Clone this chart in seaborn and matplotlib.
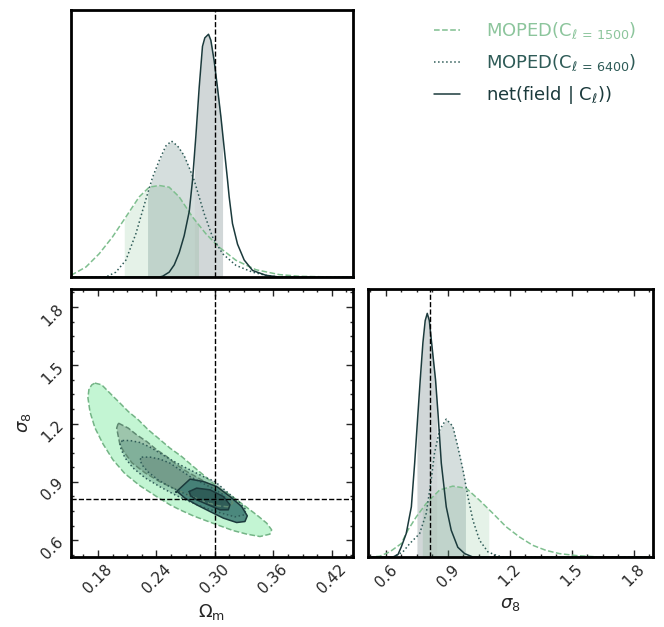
import numpy as np
import matplotlib
matplotlib.use("Agg")
import matplotlib.pyplot as plt
from matplotlib.ticker import MultipleLocator, NullLocator
from matplotlib.lines import Line2D
import seaborn as sns

sns.set_style("white")
plt.rcParams["font.family"] = ["DejaVu Sans"]
plt.rcParams["mathtext.fontset"] = "dejavusans"

# ---------------- parameters / truth ----------------
param_labels = [r"$\Omega_{\rm m}$", r"$\sigma_8$"]
truth_om = 0.30
truth_s8 = 0.812
om_lim = (0.1523, 0.4418)
s8_lim = (0.513, 1.893)

series_names = [r"MOPED(C$_{\ell\,=\,1500}$)",
                r"MOPED(C$_{\ell\,=\,6400}$)",
                r"net(field | C$_{\ell}$))"]
line_colors = ["#7fbf8f", "#2e5b57", "#1b3a3c"]
line_styles = ["--", ":", "-"]

# ---------------- 1D marginals: Omega_m ----------------
om_1500_x = [0.1523, 0.1676, 0.1813, 0.1949, 0.2086, 0.2223, 0.2326, 0.2429, 0.2531,
             0.2634, 0.2771, 0.2908, 0.3044, 0.3216, 0.3421, 0.3660, 0.3866, 0.4208, 0.4418]
om_1500_y = [0.007, 0.041, 0.096, 0.165, 0.247, 0.330, 0.370, 0.377, 0.370,
             0.330, 0.247, 0.178, 0.123, 0.069, 0.030, 0.010, 0.003, 0.0, 0.0]

om_6400_x = [0.1523, 0.1881, 0.1984, 0.2086, 0.2189, 0.2292, 0.2360, 0.2429, 0.2497, 0.2555,
             0.2617, 0.2685, 0.2737, 0.2788, 0.2891, 0.2976, 0.3079, 0.3216, 0.3387, 0.3524,
             0.3660, 0.4418]
om_6400_y = [0.0, 0.0, 0.020, 0.069, 0.178, 0.320, 0.410, 0.480, 0.540, 0.560,
             0.540, 0.500, 0.450, 0.398, 0.260, 0.165, 0.096, 0.048, 0.020, 0.007,
             0.0, 0.0]

om_net_x = [0.1523, 0.2429, 0.2463, 0.2531, 0.2583, 0.2634, 0.2685, 0.2737, 0.2771, 0.2805,
            0.2839, 0.2873, 0.2897, 0.2935, 0.2959, 0.2993, 0.3027, 0.3062, 0.3096, 0.3130,
            0.3147, 0.3181, 0.3233, 0.3301, 0.3387, 0.3524, 0.3660, 0.4418]
om_net_y = [0.0, 0.0, 0.003, 0.020, 0.050, 0.100, 0.170, 0.270, 0.400, 0.580,
            0.780, 0.950, 0.985, 1.000, 0.975, 0.890, 0.780, 0.660, 0.530, 0.400,
            0.330, 0.220, 0.135, 0.070, 0.027, 0.007, 0.0, 0.0]

om_bands = [(0.2070, 0.2832), (0.2309, 0.2788), (0.2788, 0.3079)]

# ---------------- 1D marginals: sigma_8 ----------------
s8_1500_x = [0.513, 0.521, 0.569, 0.618, 0.674, 0.706, 0.747, 0.795, 0.860, 0.924,
             0.989, 1.053, 1.118, 1.182, 1.247, 1.311, 1.376, 1.440, 1.521, 1.634, 1.893]
s8_1500_y = [0.0, 0.0, 0.003, 0.021, 0.055, 0.110, 0.165, 0.220, 0.275, 0.291,
             0.282, 0.233, 0.179, 0.124, 0.082, 0.048, 0.027, 0.014, 0.006, 0.0, 0.0]

s8_6400_x = [0.513, 0.634, 0.682, 0.715, 0.763, 0.795, 0.819, 0.835, 0.860, 0.892,
             0.924, 0.948, 0.973, 0.997, 1.021, 1.053, 1.094, 1.134, 1.166, 1.893]
s8_6400_y = [0.0, 0.0, 0.021, 0.055, 0.096, 0.179, 0.316, 0.426, 0.522, 0.566,
             0.536, 0.453, 0.357, 0.247, 0.151, 0.069, 0.021, 0.007, 0.0, 0.0]

s8_net_x = [0.513, 0.634, 0.658, 0.674, 0.698, 0.723, 0.739, 0.755, 0.766, 0.779, 0.790,
            0.800, 0.810, 0.821, 0.831, 0.840, 0.852, 0.868, 0.892, 0.916, 0.948,
            0.981, 1.021, 1.893]
s8_net_y = [0.0, 0.0, 0.010, 0.041, 0.096, 0.206, 0.385, 0.590, 0.728, 0.880, 0.970,
            1.000, 0.970, 0.880, 0.800, 0.728, 0.590, 0.385, 0.206, 0.110, 0.040,
            0.014, 0.0, 0.0]

s8_bands = [(0.776, 1.098), (0.847, 0.985), (0.750, 0.847)]

# ---------------- 2D credible contours (Omega_m, sigma_8) ----------------
c1500_outer_om = [0.1769, 0.1838, 0.1889, 0.1957, 0.2026, 0.2111, 0.2214, 0.2316, 0.2419,
                  0.2539, 0.2659, 0.2778, 0.2881, 0.3019, 0.3155, 0.3292, 0.3429, 0.3532,
                  0.3583, 0.3566, 0.3463, 0.3327, 0.3189, 0.3053, 0.2916, 0.2778, 0.2642,
                  0.2539, 0.2406, 0.2231, 0.2077, 0.1954, 0.1851, 0.1769, 0.1718, 0.1697,
                  0.1708, 0.1738]
c1500_outer_s8 = [1.4085, 1.3997, 1.3740, 1.3394, 1.3055, 1.2622, 1.2195, 1.1680, 1.1250,
                  1.0737, 1.0305, 0.9790, 0.9360, 0.8760, 0.8330, 0.7820, 0.7300, 0.6875,
                  0.6530, 0.6310, 0.6185, 0.6310, 0.6490, 0.6736, 0.6990, 0.7250, 0.7560,
                  0.7820, 0.8230, 0.8800, 0.9420, 1.0135, 1.0960, 1.1780, 1.2610, 1.3330,
                  1.3790, 1.4000]

c1500_inner_om = [0.2009, 0.2111, 0.2197, 0.2300, 0.2403, 0.2505, 0.2608, 0.2711, 0.2827,
                  0.2950, 0.3073, 0.3155, 0.3186, 0.3135, 0.3032, 0.2899, 0.2745, 0.2591,
                  0.2437, 0.2283, 0.2149, 0.2067, 0.2026, 0.2009, 0.1992]
c1500_inner_s8 = [1.2025, 1.1767, 1.1422, 1.1077, 1.0650, 1.0305, 0.9877, 0.9532, 0.9208,
                  0.8848, 0.8487, 0.8178, 0.7920, 0.7716, 0.7766, 0.7972, 0.8280, 0.8640,
                  0.9000, 0.9466, 0.9980, 1.0546, 1.0907, 1.1335, 1.1767]

c6400_outer_om = [0.2053, 0.2129, 0.2231, 0.2334, 0.2437, 0.2539, 0.2642, 0.2745, 0.2881,
                  0.3001, 0.3135, 0.3258, 0.3320, 0.3300, 0.3207, 0.3053, 0.2899, 0.2745,
                  0.2591, 0.2437, 0.2283, 0.2159, 0.2077, 0.2036, 0.2026]
c6400_outer_s8 = [1.1129, 1.1129, 1.1026, 1.0789, 1.0480, 1.0171, 0.9877, 0.9620, 0.9275,
                  0.9018, 0.8436, 0.7921, 0.7560, 0.7300, 0.7200, 0.7406, 0.7663, 0.7972,
                  0.8330, 0.8745, 0.9208, 0.9720, 1.0240, 1.0700, 1.1010]

c6400_inner_om = [0.2249, 0.2334, 0.2437, 0.2539, 0.2642, 0.2745, 0.2847, 0.2970, 0.3073,
                  0.3114, 0.3073, 0.2970, 0.2847, 0.2693, 0.2539, 0.2416, 0.2313, 0.2252,
                  0.2231]
c6400_inner_s8 = [1.0274, 1.0274, 1.0171, 0.9965, 0.9620, 0.9275, 0.9000, 0.8690, 0.8384,
                  0.8127, 0.7920, 0.7920, 0.8076, 0.8384, 0.8745, 0.9105, 0.9517, 0.9878,
                  1.0135]

cnet_outer_om = [0.2601, 0.2745, 0.2881, 0.3019, 0.3155, 0.3275, 0.3333, 0.3309, 0.3224,
                 0.3087, 0.2950, 0.2813, 0.2693, 0.2614]
cnet_outer_s8 = [0.8476, 0.9141, 0.9018, 0.8760, 0.8245, 0.7730, 0.7250, 0.6958, 0.6906,
                 0.7133, 0.7473, 0.7818, 0.8163, 0.8503]

cnet_inner_om = [0.2737, 0.2813, 0.2950, 0.3087, 0.3155, 0.3138, 0.3053, 0.2932, 0.2813,
                 0.2751]
cnet_inner_s8 = [0.8503, 0.8678, 0.8590, 0.8245, 0.7818, 0.7560, 0.7560, 0.7818, 0.8076,
                 0.8280]

contours = [
    # (om, s8, fill colour, fill alpha, edge colour, linestyle)
    (c1500_outer_om, c1500_outer_s8, "#b9f4cc", 0.85, "#74b486", "--"),
    (c1500_inner_om, c1500_inner_s8, "#7f9f8c", 0.55, "#5f8a72", "--"),
    (c6400_outer_om, c6400_outer_s8, "#4f8a7a", 0.35, "#2e5b57", ":"),
    (c6400_inner_om, c6400_inner_s8, "#5d7a70", 0.35, "#2e5b57", ":"),
    (cnet_outer_om, cnet_outer_s8, "#3e7c74", 0.85, "#1b3a3c", "-"),
    (cnet_inner_om, cnet_inner_s8, "#2c5753", 0.85, "#1b3a3c", "-"),
]

# ---------------- figure ----------------
fig = plt.figure(figsize=(6.64, 6.27), dpi=100)
ax_top = fig.add_axes([0.1069, 0.5582, 0.4247, 0.4259])
ax_2d = fig.add_axes([0.1069, 0.1116, 0.4247, 0.4275])
ax_right = fig.add_axes([0.5542, 0.1116, 0.4292, 0.4275])

for ax in (ax_top, ax_2d, ax_right):
    for sp in ax.spines.values():
        sp.set_linewidth(2.0)
        sp.set_color("black")
    ax.tick_params(which="both", direction="in", top=True, bottom=True,
                   left=True, right=True, labelsize=11, width=1.0)
    ax.tick_params(which="major", length=5)
    ax.tick_params(which="minor", length=2.5)


def draw_marginal(ax, xs, ys, bands):
    for x, y, c, ls, (lo, hi) in zip(xs, ys, line_colors, line_styles, bands):
        x = np.asarray(x)
        y = np.asarray(y)
        sns.lineplot(x=x, y=y, ax=ax, color=c, linestyle=ls, linewidth=1.1)
        sel = (x >= lo) & (x <= hi)
        xb = np.concatenate([[lo], x[sel], [hi]])
        yb = np.concatenate([[np.interp(lo, x, y)], y[sel], [np.interp(hi, x, y)]])
        ax.fill_between(xb, 0, yb, color=c, alpha=0.2, linewidth=0)
    ax.set_ylim(0, 1.1)
    ax.yaxis.set_major_locator(NullLocator())
    ax.set_ylabel("")


# Omega_m marginal
draw_marginal(ax_top, [om_1500_x, om_6400_x, om_net_x],
              [om_1500_y, om_6400_y, om_net_y], om_bands)
ax_top.set_xlim(*om_lim)
ax_top.axvline(truth_om, color="black", linestyle="--", linewidth=1.0)
ax_top.xaxis.set_major_locator(NullLocator())
ax_top.tick_params(which="both", top=False, bottom=False, left=False, right=False,
                   labelbottom=False, labelleft=False)

# sigma_8 marginal
draw_marginal(ax_right, [s8_1500_x, s8_6400_x, s8_net_x],
              [s8_1500_y, s8_6400_y, s8_net_y], s8_bands)
ax_right.set_xlim(*s8_lim)
ax_right.axvline(truth_s8, color="black", linestyle="--", linewidth=1.0)
ax_right.xaxis.set_major_locator(MultipleLocator(0.3))
ax_right.xaxis.set_minor_locator(MultipleLocator(0.075))
ax_right.tick_params(which="both", left=False, right=False, labelleft=False)
ax_right.set_xlabel(param_labels[1], fontsize=13)
for lab in ax_right.get_xticklabels():
    lab.set_rotation(45)

# 2D contours
for om, s8, fc, fa, ec, ls in contours:
    ax_2d.fill(om, s8, facecolor=fc, alpha=fa, edgecolor="none")
    ax_2d.plot(list(om) + [om[0]], list(s8) + [s8[0]], color=ec, linestyle=ls,
               linewidth=1.1)
ax_2d.axvline(truth_om, color="black", linestyle="--", linewidth=1.0)
ax_2d.axhline(truth_s8, color="black", linestyle="--", linewidth=1.0)
ax_2d.set_xlim(*om_lim)
ax_2d.set_ylim(*s8_lim)
ax_2d.xaxis.set_major_locator(MultipleLocator(0.06))
ax_2d.xaxis.set_minor_locator(MultipleLocator(0.015))
ax_2d.yaxis.set_major_locator(MultipleLocator(0.3))
ax_2d.yaxis.set_minor_locator(MultipleLocator(0.075))
ax_2d.set_xlabel(param_labels[0], fontsize=13)
ax_2d.set_ylabel(param_labels[1], fontsize=13)
for lab in ax_2d.get_xticklabels() + ax_2d.get_yticklabels():
    lab.set_rotation(45)
ax_2d.xaxis.set_major_formatter(plt.FuncFormatter(lambda v, p: f"{v:.2f}"))
ax_2d.yaxis.set_major_formatter(plt.FuncFormatter(lambda v, p: f"{v:.1f}"))
ax_right.xaxis.set_major_formatter(plt.FuncFormatter(lambda v, p: f"{v:.1f}"))

# legend
handles = [Line2D([], [], color=c, linestyle=ls, linewidth=1.1)
           for c, ls in zip(line_colors, line_styles)]
leg = fig.legend(handles, series_names, loc="upper left",
                 bbox_to_anchor=(0.6536, 0.968), frameon=False, fontsize=13,
                 borderaxespad=0.0, borderpad=0.0,
                 handlelength=1.45, handletextpad=1.45, labelspacing=0.62)
for txt, c in zip(leg.get_texts(), ["#8cc59c", "#2e5b57", "#1b3a3c"]):
    txt.set_color(c)

fig.savefig("out.png", dpi=100)
